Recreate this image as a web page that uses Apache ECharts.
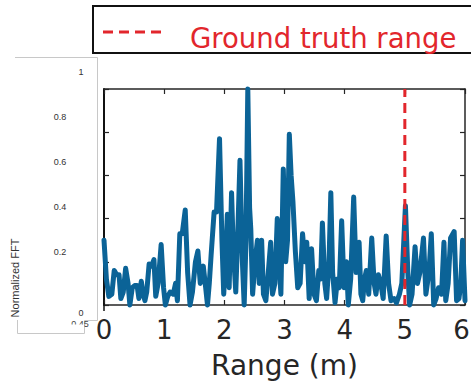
<!DOCTYPE html>
<html><head><meta charset="utf-8">
<script src="https://cdn.jsdelivr.net/npm/echarts@6/dist/echarts.min.js"></script>
<style>html,body{margin:0;padding:0;background:#fff}#c{width:471px;height:384px}</style>
</head><body><div id="c"></div>
<script>
// Range samples (m)
const rangeM = [0.00,0.04,0.08,0.13,0.17,0.21,0.25,0.28,0.32,0.36,0.40,0.43,0.47,0.51,0.55,0.58,0.62,0.65,0.68,0.71,0.75,0.79,0.83,0.86,0.90,0.95,0.99,1.02,1.06,1.10,1.15,1.19,1.22,1.26,1.30,1.35,1.39,1.43,1.47,1.52,1.56,1.60,1.65,1.69,1.72,1.75,1.78,1.83,1.87,1.92,1.96,1.99,2.02,2.05,2.08,2.12,2.15,2.19,2.22,2.26,2.30,2.33,2.36,2.39,2.42,2.44,2.47,2.51,2.55,2.58,2.62,2.65,2.69,2.73,2.77,2.80,2.84,2.88,2.91,2.94,2.98,3.02,3.05,3.08,3.11,3.14,3.18,3.22,3.26,3.30,3.34,3.37,3.41,3.45,3.49,3.53,3.57,3.60,3.63,3.67,3.70,3.74,3.77,3.80,3.84,3.88,3.91,3.95,3.99,4.03,4.06,4.10,4.15,4.19,4.24,4.27,4.30,4.33,4.36,4.40,4.45,4.49,4.52,4.56,4.60,4.64,4.69,4.73,4.77,4.82,4.86,4.91,4.95,5.01,5.05,5.08,5.12,5.17,5.21,5.25,5.31,5.35,5.40,5.44,5.48,5.52,5.56,5.61,5.65,5.68,5.72,5.76,5.82,5.86,5.90,5.93,5.96,6.00];
// Normalized FFT magnitude
const fftVal = [0.30,0.12,0.04,0.05,0.16,0.14,0.14,0.03,0.06,0.17,0.10,0.00,0.08,0.09,0.09,0.03,0.11,0.05,0.02,0.06,0.19,0.18,0.21,0.04,0.10,0.28,0.08,0.00,0.04,0.06,0.05,0.10,0.02,0.33,0.33,0.44,0.15,0.00,0.06,0.20,0.25,0.10,0.18,0.08,0.00,0.10,0.23,0.43,0.43,0.77,0.30,0.05,0.20,0.42,0.08,0.52,0.25,0.06,0.30,0.67,0.20,0.00,0.30,1.00,0.45,0.35,0.05,0.20,0.30,0.10,0.30,0.05,0.02,0.15,0.29,0.05,0.10,0.40,0.20,0.05,0.63,0.20,0.30,0.79,0.60,0.48,0.25,0.08,0.10,0.33,0.20,0.29,0.03,0.26,0.05,0.02,0.16,0.12,0.38,0.10,0.03,0.20,0.52,0.15,0.01,0.12,0.08,0.39,0.08,0.20,0.00,0.12,0.50,0.15,0.29,0.05,0.02,0.12,0.16,0.05,0.31,0.10,0.05,0.14,0.10,0.03,0.32,0.10,0.02,0.03,0.01,0.05,0.10,0.46,0.15,0.00,0.05,0.27,0.10,0.15,0.31,0.05,0.15,0.33,0.00,0.03,0.08,0.05,0.29,0.02,0.10,0.31,0.34,0.02,0.03,0.10,0.30,0.02];
const groundTruth = 5;
const xTicks = ['0','1','2','3','4','5','6'];
const overlayTicks = ['1','0.8','0.6','0.4','0.2','0'];
const legendText = 'Ground truth range';
const xName = 'Range (m)';
const yName = 'Normalized FFT';

const chart = echarts.init(document.getElementById('c'), null, {renderer: 'svg'});
const red = '#e2262c';
const blue = '#0b6397';
const axisCol = '#262626';

const overlayY = [72, 117, 162, 207, 252, 313];
const overlayX = [81, 60, 60, 60, 60, 81];
const graphics = [
  {type:'polyline', shape:{points:[[15,57.5],[97.5,57.5],[97.5,320.5],[84.5,320.5],[84.5,333.5],[17.5,333.5],[17.5,320]]}, style:{stroke:'#c8c8c8', lineWidth:1, fill:null}, z:1},
  {type:'text', x:80, y:324, style:{text:'0.45', font:'9px "Liberation Sans"', fill:'#444', align:'center', verticalAlign:'middle'}, z:2},
  {type:'rect', shape:{x:70, y:324.5, width:14, height:8}, style:{fill:'#fff'}, z:3},
  {type:'text', x:15, y:278, rotation:Math.PI/2, style:{text:yName, font:'11px "Liberation Sans"', fill:'#333', align:'center', verticalAlign:'middle'}, z:4},
  {type:'rect', shape:{x:93, y:6, width:390, height:47}, style:{stroke:'#111', lineWidth:2, fill:'#fff'}, z:5},
  {type:'line', shape:{x1:103, y1:32, x2:167, y2:32}, style:{stroke:red, lineWidth:3, lineDash:[10,6]}, z:6},
  {type:'text', x:190, y:38, style:{text:legendText, font:'27.5px "DejaVu Sans"', fill:red, align:'left', verticalAlign:'middle'}, z:6},
  {type:'line', shape:{x1:104, y1:303, x2:104, y2:311}, style:{stroke:'#111', lineWidth:1.5}, z:6}
];
overlayTicks.forEach((t,i)=>{
  graphics.push({type:'text', x:overlayX[i], y:overlayY[i], style:{text:t, font:'9px "Liberation Sans"', fill:'#333', align:'center', verticalAlign:'middle'}, z:4});
});

const xCommon = {type:'value', min:0, max:6, interval:1, splitLine:{show:false},
  axisLine:{show:true, onZero:false, lineStyle:{color:axisCol, width:1.5}},
  axisTick:{show:true, inside:true, length:5, lineStyle:{color:axisCol, width:1.2}}};
const yCommon = {type:'value', min:0, max:1, interval:0.2, splitLine:{show:false},
  axisLine:{show:true, onZero:false, lineStyle:{color:axisCol, width:1.5}},
  axisTick:{show:true, inside:true, length:5, lineStyle:{color:axisCol, width:1.2}},
  axisLabel:{show:false}};

chart.setOption({
  animation:false,
  backgroundColor:'#fff',
  grid:{left:104, right:6, top:89, bottom:79, containLabel:false, outerBoundsMode:'none'},
  xAxis:[
    Object.assign({}, xCommon, {position:'bottom',
      axisLabel:{show:true, fontFamily:'DejaVu Sans', fontSize:26, color:axisCol, margin:12,
        formatter:(v)=>{const i=Math.round(v); return i===xTicks.length-1 ? '{e|'+xTicks[i]+'}' : xTicks[i];},
        rich:{e:{fontFamily:'DejaVu Sans', fontSize:26, color:axisCol, padding:[0,7,0,0]}}},
      name:xName, nameLocation:'middle', nameGap:46,
      nameTextStyle:{fontFamily:'DejaVu Sans', fontSize:28, color:axisCol}}),
    Object.assign({}, xCommon, {position:'top', axisLabel:{show:false}})
  ],
  yAxis:[
    Object.assign({}, yCommon, {position:'left', axisLine:{show:true,onZero:false,lineStyle:{color:'#111',width:2}}}),
    Object.assign({}, yCommon, {position:'right'})
  ],
  series:[
    {type:'line', xAxisIndex:0, yAxisIndex:0, data:rangeM.map((x,i)=>[x,fftVal[i]]),
     showSymbol:false, symbol:'none', clip:false, smooth:false,
     lineStyle:{color:blue, width:5, join:'round', cap:'round'}, z:3},
    {type:'line', xAxisIndex:0, yAxisIndex:0, data:[[groundTruth,0],[groundTruth,1]],
     showSymbol:false, symbol:'none', clip:false,
     lineStyle:{color:red, width:3, type:[10,6]}, z:4}
  ],
  graphic:graphics
});
</script></body></html>
